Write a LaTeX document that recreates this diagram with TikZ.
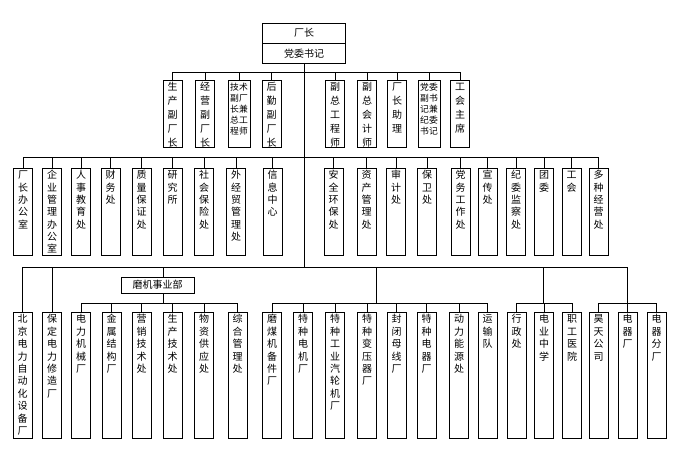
\documentclass[tikz,border=0pt]{standalone}
\usepackage{fontspec}
\newfontfamily\cjk{Noto Sans CJK SC}
\usetikzlibrary{shapes.multipart}

\tikzset{
  post/.style={draw, anchor=north, inner sep=0pt, align=center,
    text width=19pt, text height=10.5pt, font=\cjk\fontsize{10}{14}\selectfont},
  deputy/.style={post, text depth=56.5pt},
  deputytwo/.style={deputy, text width=22pt, text height=10pt,
    font=\cjk\fontsize{8.8}{11}\selectfont},
  office/.style={post, text depth=76.5pt, font=\cjk\fontsize{10}{12.3}\selectfont},
  plant/.style={post, text depth=115.5pt, font=\cjk\fontsize{10}{12.4}\selectfont}
}

\begin{document}
\begin{tikzpicture}[x=1pt, y=-1pt, line width=0.7pt]
  \useasboundingbox (0,0) rectangle (677,459);

  \node[rectangle split, rectangle split parts=2, draw, anchor=north,
  minimum width=83pt, inner xsep=0pt, inner ysep=4.75pt,
  text height=8pt, text depth=2pt, font=\cjk\fontsize{10}{12}\selectfont,
  rectangle split part align={center}] (chief) at (304,23)
  { 厂长
    \nodepart{two} 党委书记 };

  % levels of the buses
  \coordinate (y1) at (0,72);
  \coordinate (y2) at (0,157);
  \coordinate (y3) at (0,267);
  \coordinate (y4) at (0,303);

  % deputies
  \node[deputy] (d1) at (172.5,80) {生\\产\\副\\厂\\长};
  \node[deputy] (d2) at (205,80) {经\\营\\副\\厂\\长};
  \node[deputytwo] (d3) at (239,80) {技术\\副厂\\长兼\\总工\\程师};
  \node[deputy] (d4) at (271.5,80) {后\\勤\\副\\厂\\长};
  \node[deputy] (d5) at (335,80) {副\\总\\工\\程\\师};
  \node[deputy] (d6) at (367,80) {副\\总\\会\\计\\师};
  \node[deputy] (d7) at (397,80) {厂\\长\\助\\理};
  \node[deputytwo] (d8) at (429,80) {党委\\副书\\记兼\\纪委\\书记};
  \node[deputy] (d9) at (460,80) {工\\会\\主\\席};

  % offices
  \node[office] (o1) at (23,168) {厂\\长\\办\\公\\室};
  \node[office] (o2) at (52,168) {企\\业\\管\\理\\办\\公\\室};
  \node[office] (o3) at (81,168) {人\\事\\教\\育\\处};
  \node[office] (o4) at (110.5,168) {财\\务\\处};
  \node[office] (o5) at (141.5,168) {质\\量\\保\\证\\处};
  \node[office] (o6) at (172.5,168) {研\\究\\所};
  \node[office] (o7) at (204,168) {社\\会\\保\\险\\处};
  \node[office] (o8) at (236,168) {外\\经\\贸\\管\\理\\处};
  \node[office] (o9) at (272.5,168) {信\\息\\中\\心};
  \node[office] (o10) at (333.5,168) {安\\全\\环\\保\\处};
  \node[office] (o11) at (366.5,168) {资\\产\\管\\理\\处};
  \node[office] (o12) at (396,168) {审\\计\\处};
  \node[office] (o13) at (427,168) {保\\卫\\处};
  \node[office] (o14) at (460.5,168) {党\\务\\工\\作\\处};
  \node[office] (o15) at (487.5,168) {宣\\传\\处};
  \node[office] (o16) at (516,168) {纪\\委\\监\\察\\处};
  \node[office] (o17) at (544,168) {团\\委};
  \node[office] (o18) at (571.5,168) {工\\会};
  \node[office] (o19) at (598.5,168) {多\\种\\经\\营\\处};

  % plants
  \node[plant] (bj) at (22.5,312) {北\\京\\电\\力\\自\\动\\化\\设\\备\\厂};
  \node[plant] (bd) at (52,312) {保\\定\\电\\力\\修\\造\\厂};
  \node[draw, minimum width=73pt, minimum height=16pt, inner sep=0pt,
  font=\cjk\fontsize{10}{12}\selectfont] (mj) at (157.5,285) {磨机事业部};
  \node[plant] (m1) at (81,312) {电\\力\\机\\械\\厂};
  \node[plant] (m2) at (111.5,312) {金\\属\\结\\构\\厂};
  \node[plant] (m3) at (141.5,312) {营\\销\\技\\术\\处};
  \node[plant] (m4) at (172.5,312) {生\\产\\技\\术\\处};
  \node[plant] (m5) at (204,312) {物\\资\\供\\应\\处};
  \node[plant] (m6) at (237.5,312) {综\\合\\管\\理\\处};
  \node[plant] (t1) at (272,312) {磨\\煤\\机\\备\\件\\厂};
  \node[plant] (t2) at (303,312) {特\\种\\电\\机\\厂};
  \node[plant] (t3) at (335,312) {特\\种\\工\\业\\汽\\轮\\机\\厂};
  \node[plant] (t4) at (367,312) {特\\种\\变\\压\\器\\厂};
  \node[plant] (t5) at (396.5,312) {封\\闭\\母\\线\\厂};
  \node[plant] (t6) at (426.5,312) {特\\种\\电\\器\\厂};
  \node[plant] (t7) at (459,312) {动\\力\\能\\源\\处};
  \node[plant] (t8) at (487.5,312) {运\\输\\队};
  \node[plant] (s1) at (516.5,312) {行\\政\\处};
  \node[plant] (s2) at (544,312) {电\\业\\中\\学};
  \node[plant] (s3) at (572,312) {职\\工\\医\\院};
  \node[plant] (w1) at (598.5,312) {昊\\天\\公\\司};
  \node[plant] (w2) at (627.5,312) {电\\器\\厂};
  \node[plant] (w3) at (656.5,312) {电\\器\\分\\厂};

  \coordinate (mjx) at (163,0);
  \coordinate (tx) at (376,0);
  \coordinate (sx) at (543,0);

  % trunk
  \draw (chief.south) -- (chief.south |- y3);

  % deputies
  \draw (d1.north) |- (d9.north |- y1) -- (d9.north)
        (d2.north) -- (d2.north |- y1)
        (d3.north) -- (d3.north |- y1)
        (d4.north) -- (d4.north |- y1)
        (d5.north) -- (d5.north |- y1)
        (d6.north) -- (d6.north |- y1)
        (d7.north) -- (d7.north |- y1)
        (d8.north) -- (d8.north |- y1);

  % offices
  \draw (o1.north) |- (o19.north |- y2) -- (o19.north)
        (o2.north) -- (o2.north |- y2)
        (o3.north) -- (o3.north |- y2)
        (o4.north) -- (o4.north |- y2)
        (o5.north) -- (o5.north |- y2)
        (o6.north) -- (o6.north |- y2)
        (o7.north) -- (o7.north |- y2)
        (o8.north) -- (o8.north |- y2)
        (o9.north) -- (o9.north |- y2)
        (o10.north) -- (o10.north |- y2)
        (o11.north) -- (o11.north |- y2)
        (o12.north) -- (o12.north |- y2)
        (o13.north) -- (o13.north |- y2)
        (o14.north) -- (o14.north |- y2)
        (o15.north) -- (o15.north |- y2)
        (o16.north) -- (o16.north |- y2)
        (o17.north) -- (o17.north |- y2)
        (o18.north) -- (o18.north |- y2);

  % plants
  \draw (bj.north) |- (w2.north |- y3) -- (w2.north)
        (bd.north) -- (bd.north |- y3);
  \draw (mjx |- y3) -- (mj.north -| mjx)
        (mj.south -| mjx) -- (mjx |- y4);
  \draw (m1.north) |- (m6.north |- y4) -- (m6.north)
        (m2.north) -- (m2.north |- y4)
        (m3.north) -- (m3.north |- y4)
        (m4.north) -- (m4.north |- y4)
        (m5.north) -- (m5.north |- y4);
  \draw (tx |- y3) -- (tx |- y4);
  \draw (t1.north) |- (t8.north |- y4) -- (t8.north)
        (t2.north) -- (t2.north |- y4)
        (t3.north) -- (t3.north |- y4)
        (t4.north) -- (t4.north |- y4)
        (t5.north) -- (t5.north |- y4)
        (t6.north) -- (t6.north |- y4)
        (t7.north) -- (t7.north |- y4);
  \draw (sx |- y3) -- (sx |- y4);
  \draw (s1.north) |- (s3.north |- y4) -- (s3.north)
        (s2.north) -- (s2.north |- y4);
  \draw (w1.north) |- (w3.north |- y4) -- (w3.north);
\end{tikzpicture}
\end{document}
